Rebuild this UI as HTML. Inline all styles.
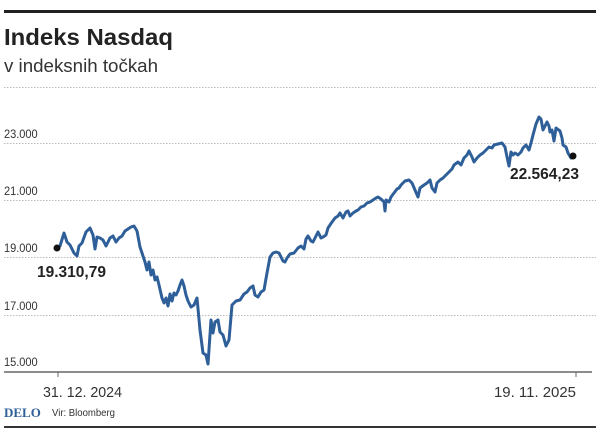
<!DOCTYPE html>
<html><head><meta charset="utf-8"><style>
body{margin:0;background:#fff;}
svg{display:block;font-family:"Liberation Sans",sans-serif;}
</style></head><body>
<svg width="600" height="434" viewBox="0 0 600 434">
<rect x="4" y="10" width="592" height="3" fill="#222"/>
<text x="4" y="45" font-size="23" font-weight="bold" fill="#222" textLength="169" lengthAdjust="spacingAndGlyphs">Indeks Nasdaq</text>
<text x="4" y="72" font-size="18" fill="#333" textLength="154" lengthAdjust="spacingAndGlyphs">v indeksnih točkah</text>
<g stroke="#bbb" stroke-width="1" stroke-dasharray="1.5,1.5">
<line x1="4" x2="596" y1="87.5" y2="87.5"/>
<line x1="4" x2="596" y1="143.5" y2="143.5"/>
<line x1="4" x2="596" y1="200.5" y2="200.5"/>
<line x1="4" x2="596" y1="257.5" y2="257.5"/>
<line x1="4" x2="596" y1="315.5" y2="315.5"/>
</g>
<g font-size="12" fill="#333" transform="scale(0.92,1)">
<text x="4.3" y="138">23.000</text>
<text x="4.3" y="195">21.000</text>
<text x="4.3" y="252">19.000</text>
<text x="4.3" y="310">17.000</text>
<text x="4.3" y="366">15.000</text>
</g>
<line x1="4" x2="592" y1="372" y2="372" stroke="#666" stroke-width="1.5"/>
<line x1="58" x2="58" y1="372" y2="377" stroke="#666"/>
<line x1="576" x2="576" y1="372" y2="377" stroke="#666"/>
<polyline fill="none" stroke="#2e5f99" stroke-width="3" stroke-linejoin="round" points="57,248 60,246 64,233 67,242 70,245 74,253 77,256 79,246 82,243 86,232 90,228 93,235 95,249 97,237 100,238 103,240 106,246 110,238 113,236 116,242 119,238 122,236 125,231 128,229 131,227 134,226 137,231 140,247 143,256 145,262 147,270 149,262 151,275 153,270 155,280 157,277 159,285 162,298 164,303 166,298 168,306 170,294 172,301 174,293 176,295 178,291 180,285 182,280 184,286 186,295 188,301 191,307 194,305 197,298 200,330 203,353 206,355 208,364 211,320 213,333 215,322 218,320 220,332 223,335 226,346 229,340 232,305 236,301 240,300 244,294 247,292 250,288 253,286 255,295 258,297 261,292 264,290 267,273 270,257 273,253 276,252 279,253 281,257 283,261 285,262 287,258 290,254 294,253 298,248 301,246 304,249 306,239 308,236 311,241 313,242 316,236 318,232 321,238 323,237 326,235 328,228 332,222 335,218 338,216 340,213 343,218 346,212 348,211 350,216 353,213 356,211 358,210 361,207 364,206 367,203 370,202 373,200 376,198 378,197 381,199 384,202 385,211 386,200 389,202 391,197 394,193 397,189 399,188 401,185 405,181 409,180 412,183 415,190 418,197 420,188 424,185 427,183 430,180 432,188 435,192 437,183 440,180 443,178 446,175 449,172 452,169 454,165 458,162 461,165 464,158 467,155 469,151 472,157 474,162 477,158 480,155 483,153 486,150 489,147 492,148 494,145 498,144 502,143 505,147 507,157 509,166 511,152 513,155 515,153 518,155 521,152 523,148 526,145 529,150 531,143 533,135 536,124 539,117 541,119 543,130 545,126 547,122 549,126 550,132 552,130 554,141 556,128 560,131 562,138 563,145 566,147 568,153 571,158 573,156"/>
<circle cx="57" cy="248" r="3.5" fill="#111"/>
<circle cx="573" cy="156" r="3.5" fill="#111"/>
<text x="37" y="277" font-size="15.5" font-weight="bold" fill="#222">19.310,79</text>
<text x="510" y="179" font-size="15.5" font-weight="bold" fill="#222">22.564,23</text>
<text x="43" y="397" font-size="15" fill="#333" textLength="79" lengthAdjust="spacingAndGlyphs">31. 12. 2024</text>
<text x="494" y="397" font-size="15" fill="#333" textLength="82" lengthAdjust="spacingAndGlyphs">19. 11. 2025</text>
<text x="4" y="417" font-size="13" font-weight="bold" fill="#2e5f99" font-family="Liberation Serif,serif">DELO</text>
<text x="52" y="416" font-size="10.5" fill="#333" textLength="63" lengthAdjust="spacingAndGlyphs">Vir: Bloomberg</text>
<rect x="4" y="426" width="592" height="2" fill="#333"/>
</svg>
</body></html>
